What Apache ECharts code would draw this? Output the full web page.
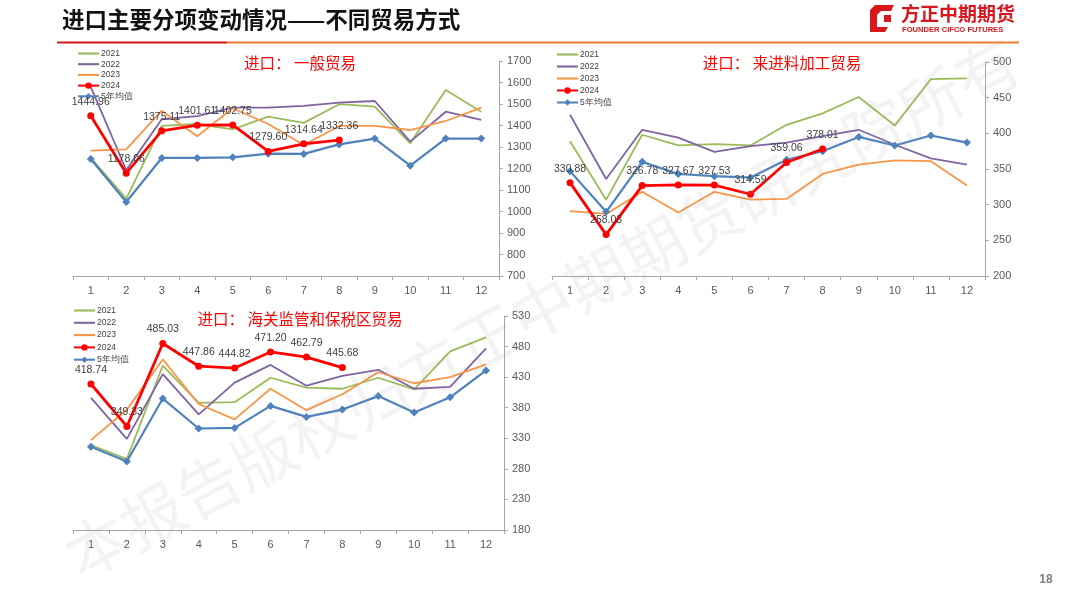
<!DOCTYPE html>
<html><head><meta charset="utf-8">
<script src="https://cdn.jsdelivr.net/npm/echarts@6/dist/echarts.min.js"></script>
<style>html,body{margin:0;padding:0;background:#fff}#c{width:1080px;height:608px}</style>
</head><body><div id="c"></div>
<script>
// ---- data ----
const months = ['1','2','3','4','5','6','7','8','9','10','11','12'];
const seriesNames = ['2021','2022','2023','2024','5年均值'];

// 一般贸易
const g_2021 = [1250,1060,1398,1407,1382,1441,1412,1499,1488,1317,1565,1464];
const g_2022 = [1580,1193,1429,1444,1483,1483,1491,1506,1514,1325,1464,1426];
const g_2023 = [1283,1289,1469,1350,1480,1407,1309,1398,1398,1379,1421,1483];
const g_2024 = [1444.96,1178.06,1375.11,1401.61,1402.75,1279.60,1314.64,1332.36];
const g_avg  = [1244,1044,1249,1249,1252,1269,1268,1312,1339,1213,1339,1339];

// 来进料加工贸易
const p_2021 = [389,307,398,383,385,383,412,428,451,411,476,477];
const p_2022 = [426,336,405,394,374,382,387,396,405,384,365,356];
const p_2023 = [291,287,318,289,318,307,308,343,356,362,361,327];
const p_2024 = [330.88,258.03,326.78,327.67,327.53,314.59,359.06,378.01];
const p_avg  = [347,290,360,343,340,338,363,375,395,383,397,387];

// 海关监管和保税区贸易
const b_2021 = [319,296,449,388,389,429,413,411,429,410,472,495];
const b_2022 = [396,329,435,369,421,450,416,432,442,411,414,477];
const b_2023 = [327,377,459,386,361,411,376,402,438,420,430,451];
const b_2024 = [418.74,349.33,485.03,447.86,444.82,471.20,462.79,445.68];
const b_avg  = [316,292,395,346,347,383,365,377,399,372,397,441];

const chartTitles = ['进口： 一般贸易','进口： 来进料加工贸易','进口： 海关监管和保税区贸易'];
const yRanges = [[700,1700,100],[200,500,50],[180,530,50]];

// ---- styles ----
const colors = {'2021':'#9BBB59','2022':'#8064A2','2023':'#F79646','2024':'#FF0000','5年均值':'#4F81BD'};
const axisColor = '#A6A6A6';
const txtColor = '#595959';
const numFont = '"Liberation Sans", Arial, sans-serif';
const cjk = '"Noto Sans CJK SC", sans-serif';

const grids = [
  {left:73, top:61, width:426, height:215},
  {left:552, top:62, width:433, height:214},
  {left:73, top:316, width:431, height:214}
];
const datasets = [
  [g_2021,g_2022,g_2023,g_2024,g_avg],
  [p_2021,p_2022,p_2023,p_2024,p_avg],
  [b_2021,b_2022,b_2023,b_2024,b_avg]
];

const xAxis = [], yAxis = [], series = [];
grids.forEach((g,i)=>{
  xAxis.push({type:'category', gridIndex:i, data:months, boundaryGap:true,
    axisLine:{lineStyle:{color:axisColor,width:1}},
    axisTick:{show:true,length:4,lineStyle:{color:axisColor}},
    axisLabel:{color:txtColor,fontSize:11,fontFamily:numFont,margin:9},
    splitLine:{show:false}});
  yAxis.push({type:'value', gridIndex:i, position:'right', min:yRanges[i][0], max:yRanges[i][1], interval:yRanges[i][2],
    axisLine:{show:true,lineStyle:{color:axisColor,width:1}},
    axisTick:{show:true,length:4,lineStyle:{color:axisColor}},
    axisLabel:{color:txtColor,fontSize:11,fontFamily:numFont,margin:8,formatter:v=>String(v)},
    splitLine:{show:false}});
  const d = datasets[i];
  ['2021','2022','2023'].forEach((n,k)=>{
    series.push({name:n,type:'line',xAxisIndex:i,yAxisIndex:i,data:d[k],symbol:'none',
      lineStyle:{color:colors[n],width:1.8},itemStyle:{color:colors[n]},z:2});
  });
  series.push({name:'2024',type:'line',xAxisIndex:i,yAxisIndex:i,data:d[3],symbol:'circle',symbolSize:7,
    lineStyle:{color:colors['2024'],width:2.8},itemStyle:{color:colors['2024']},z:4,
    label:{show:true,position:'top',distance:5,color:'#404040',fontSize:10.5,fontFamily:numFont,
      formatter:p=>p.value.toFixed(2)}});
  series.push({name:'5年均值',type:'line',xAxisIndex:i,yAxisIndex:i,data:d[4],symbol:'diamond',symbolSize:8,
    lineStyle:{color:colors['5年均值'],width:2.2},itemStyle:{color:colors['5年均值']},z:3});
});

const lineIcon = 'path://M0,0 L40,0 L40,4 L0,4 Z';
const legendData = seriesNames.map(n => (n==='2021'||n==='2022'||n==='2023') ? {name:n, icon:lineIcon} : {name:n});
const legendPos = [{left:77,top:49,gap:1.7},{left:556,top:50,gap:3},{left:73,top:306,gap:3.3}];
const legend = legendPos.map(p=>({orient:'vertical',left:p.left,top:p.top,itemWidth:21,itemHeight:8,itemGap:p.gap,
  padding:0,data:legendData,selectedMode:false,
  textStyle:{color:'#404040',fontSize:8.5,fontFamily:numFont,padding:[0,0,0,-3]}}));

const titlePos = [[300,63],[782,63],[300,319]];
const graphic = [];
// watermark
graphic.push({type:'text',x:542,y:308,rotation:0.49,z:100,silent:true,
  style:{text:'本报告版权归方正中期期货研究院所有',fontSize:63,fontFamily:cjk,fill:'rgba(160,160,160,0.13)',
    align:'center',verticalAlign:'middle'}});
// page title
graphic.push({type:'text',x:62,y:19,style:{text:'进口主要分项变动情况——不同贸易方式',fontSize:22.5,fontWeight:'bold',
  fontFamily:cjk,fill:'#111',verticalAlign:'middle'}});
// header rule
graphic.push({type:'line',shape:{x1:57,y1:42.5,x2:227,y2:42.5},style:{stroke:'#D7161D',lineWidth:2}});
graphic.push({type:'line',shape:{x1:227,y1:42.5,x2:1019,y2:42.5},style:{stroke:'#ED7D31',lineWidth:2}});
// logo
graphic.push({type:'polygon',shape:{points:[[875,5],[894,5],[891,11],[881,11],[877,15],[877,27],[888,27],[885,32],[870,32],[870,10]]},
  style:{fill:'#D7161D'}});
graphic.push({type:'polygon',shape:{points:[[884,15],[891,15],[891,22],[884,22]]},style:{fill:'#D7161D'}});
graphic.push({type:'text',x:901,y:14,style:{text:'方正中期期货',fontSize:19,fontWeight:'bold',fontFamily:cjk,fill:'#D7161D',verticalAlign:'middle'}});
graphic.push({type:'text',x:902,y:29.5,style:{text:'FOUNDER CIFCO FUTURES',fontSize:7.6,fontWeight:'bold',fontFamily:numFont,fill:'#D7161D',verticalAlign:'middle'}});
// page number
graphic.push({type:'text',x:1046,y:580,style:{text:'18',fontSize:12,fontWeight:'bold',fontFamily:numFont,fill:'#7F7F7F',align:'center',verticalAlign:'middle'}});
// chart titles
chartTitles.forEach((t,i)=>{
  graphic.push({type:'text',x:titlePos[i][0],y:titlePos[i][1],style:{text:t,fontSize:15.5,fontFamily:cjk,fill:'#FF0000',
    align:'center',verticalAlign:'middle'}});
});

const chart = echarts.init(document.getElementById('c'),null,{renderer:'canvas'});
chart.setOption({animation:false,backgroundColor:'#fff',grid:grids,xAxis,yAxis,series,legend,graphic});
</script></body></html>
